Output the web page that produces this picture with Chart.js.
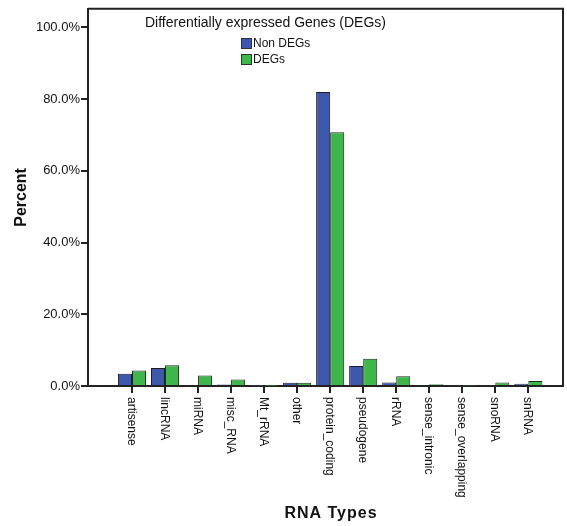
<!DOCTYPE html>
<html>
<head>
<meta charset="utf-8">
<script src="https://cdn.jsdelivr.net/npm/chart.js@4"></script>
<style>
html,body{margin:0;padding:0;background:#fff;}
#wrap{width:567px;height:526px;position:relative;}
</style>
</head>
<body>
<div id="wrap"><canvas id="c" width="567" height="526"></canvas></div>
<script>
const categories = ["artisense","lincRNA","miRNA","misc_RNA","Mt_rRNA","other","protein_coding","pseudogene","rRNA","sense_intronic","sense_overlapping","snoRNA","snRNA"];
const nonDEGs = [3.4, 5.0, 0.2, 0.4, 0.05, 0.9, 82.0, 5.6, 1.0, 0.15, 0.1, 0.1, 0.6];
const DEGs    = [4.3, 5.8, 2.9, 1.8, 0.05, 0.9, 70.8, 7.6, 2.75, 0.5, 0.1, 1.0, 1.4];
const yTicks = [0, 20, 40, 60, 80, 100];
const seriesNames = ["Non DEGs", "DEGs"];
const legendTitle = "Differentially expressed Genes (DEGs)";
const xTitle = "RNA Types";
const yTitle = "Percent";

const BLUE = '#3d57aa';
const GREEN = '#3fb64c';
const FONT = '"Liberation Sans", Arial, sans-serif';

const overlay = {
  id: 'overlay',
  afterDraw(chart) {
    const ctx = chart.ctx;
    const xs = chart.scales.x;
    const ca = chart.chartArea;
    ctx.save();
    // frame top & right
    ctx.strokeStyle = '#222';
    ctx.lineWidth = 2;
    ctx.beginPath();
    ctx.moveTo(ca.left, ca.top);
    ctx.lineTo(ca.right, ca.top);
    ctx.lineTo(ca.right, ca.bottom);
    ctx.stroke();
    // x labels rotated clockwise
    ctx.fillStyle = '#111';
    ctx.font = '12px ' + FONT;
    ctx.textAlign = 'left';
    ctx.textBaseline = 'middle';
    categories.forEach((c, i) => {
      const x = xs.getPixelForValue(i);
      ctx.save();
      ctx.translate(x - 1, ca.bottom + 11);
      ctx.rotate(Math.PI / 2);
      ctx.fillText(c, 0, 0);
      ctx.restore();
    });
    // axis titles
    ctx.font = 'bold 16px ' + FONT;
    ctx.textAlign = 'center';
    ctx.save();
    ctx.translate(22, (ca.top + ca.bottom) / 2);
    ctx.rotate(-Math.PI / 2);
    ctx.fillText(yTitle, 0, 0);
    ctx.restore();
    if ('letterSpacing' in ctx) ctx.letterSpacing = '1px';
    ctx.fillText(xTitle, 331, 514);
    if ('letterSpacing' in ctx) ctx.letterSpacing = '0px';
    // legend
    ctx.font = '14px ' + FONT;
    ctx.textAlign = 'left';
    ctx.fillText(legendTitle, 145, 23);
    const colors = [BLUE, GREEN];
    ctx.font = '12px ' + FONT;
    seriesNames.forEach((n, i) => {
      const y = 44 + i * 16;
      ctx.fillStyle = colors[i];
      ctx.fillRect(241, y - 6, 11, 11);
      ctx.strokeStyle = '#333';
      ctx.lineWidth = 1;
      ctx.strokeRect(241.5, y - 5.5, 10, 10);
      ctx.fillStyle = '#111';
      ctx.fillText(n, 253, y);
    });
    ctx.restore();
  }
};

new Chart(document.getElementById('c'), {
  type: 'bar',
  data: {
    datasets: [
      { label: seriesNames[0], data: nonDEGs.map((v, i) => ({x: i, y: v})), backgroundColor: BLUE, borderColor: '#1c1c2c', borderWidth: 1, categoryPercentage: 0.85, barPercentage: 1.0 },
      { label: seriesNames[1], data: DEGs.map((v, i) => ({x: i, y: v})), backgroundColor: GREEN, borderColor: '#1c2c1c', borderWidth: 1, categoryPercentage: 0.85, barPercentage: 1.0 }
    ]
  },
  options: {
    responsive: false,
    animation: false,
    layout: { padding: { top: 4, right: 4, left: 0, bottom: 0 } },
    plugins: { legend: { display: false }, tooltip: { enabled: false } },
    scales: {
      x: {
        type: 'linear',
        min: -1.332,
        max: 13.05,
        offset: false,
        afterBuildTicks(s) { s.ticks = categories.map((_, i) => ({ value: i })); },
        afterFit(s) { s.height = 140; },
        ticks: { display: false },
        grid: { display: true, offset: false, drawOnChartArea: false, drawTicks: true, tickLength: 7, color: '#222', lineWidth: 2 },
        border: { display: true, color: '#222', width: 2 }
      },
      y: {
        min: 0,
        max: 105.2,
        afterBuildTicks(s) { s.ticks = yTicks.map(v => ({ value: v })); },
        afterFit(s) { s.width = 88; },
        ticks: { color: '#111', font: { family: FONT, size: 13 }, padding: 1, callback: v => v.toFixed(1) + '%' },
        grid: { display: true, drawOnChartArea: false, drawTicks: true, tickLength: 7, color: '#222', lineWidth: 2 },
        border: { display: true, color: '#222', width: 2 }
      }
    }
  },
  plugins: [overlay]
});
</script>
</body>
</html>
